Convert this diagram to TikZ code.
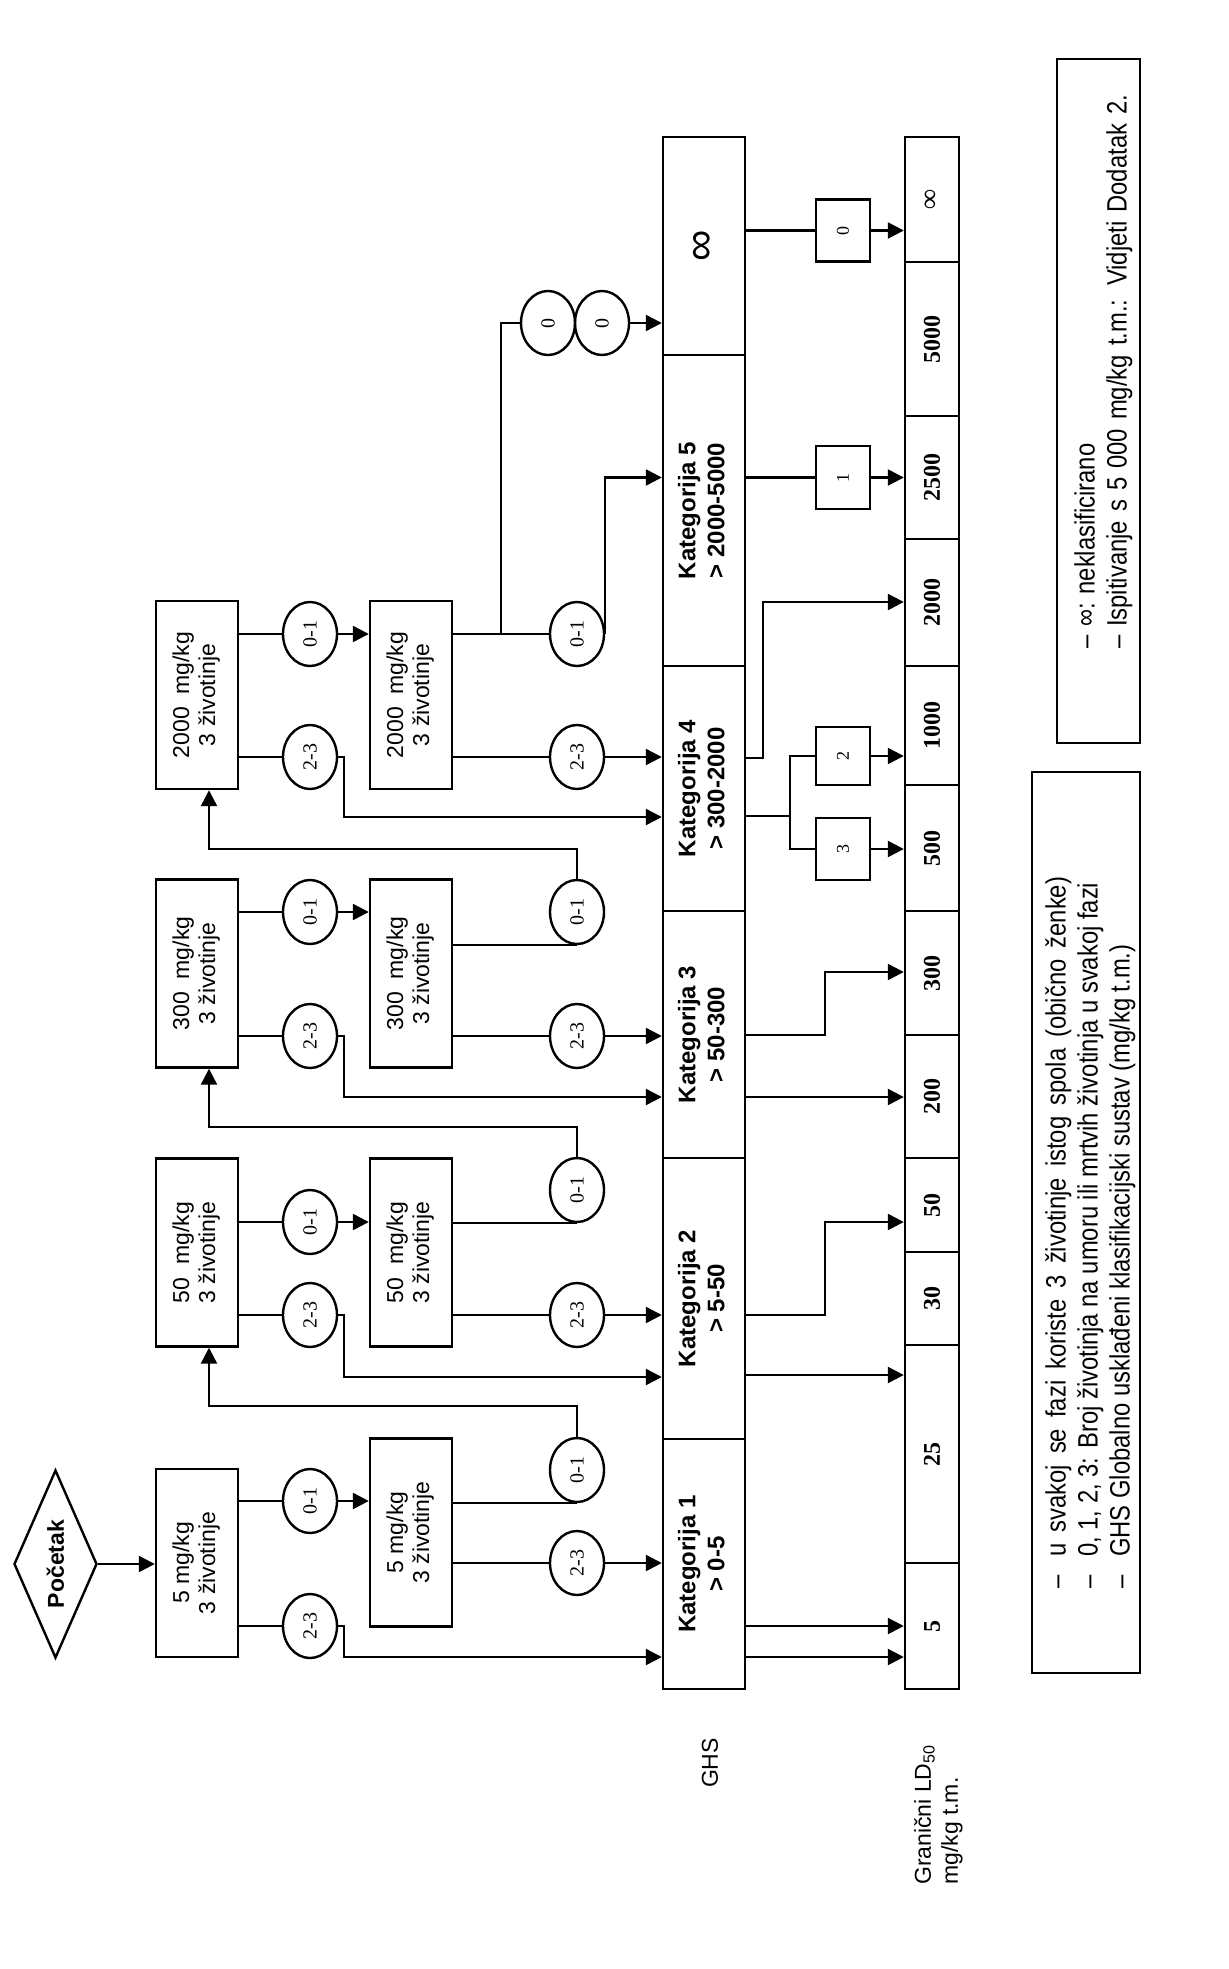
\documentclass[tikz,border=0pt]{standalone}
\usepackage{fontspec}
\usepackage{graphicx}
\setmainfont{Liberation Sans}
\newfontfamily\numfont{Liberation Serif}
\newfontfamily\narrowfont[FakeStretch=0.85]{Liberation Sans}
\usetikzlibrary{shapes.geometric,arrows.meta,calc}
\newcommand{\rtext}[1]{\rotatebox{90}{\begin{tabular}{@{}c@{}}#1\end{tabular}}}
\newcommand{\legitem}[2]{\makebox[#1][l]{–}#2}
\tikzset{
  arr/.style={-{Triangle[length=8pt,width=8pt]}},
  dosebox/.style={draw, rectangle, minimum width=41pt, minimum height=94pt, inner sep=0pt, font=\fontsize{11.5}{13}\selectfont},
  oval/.style={draw, ellipse, minimum width=27pt, minimum height=32pt, inner sep=0pt, font=\numfont\fontsize{10}{11}\selectfont},
  katbox/.style={draw, rectangle, minimum width=41pt, inner sep=0pt, font=\bfseries\fontsize{12}{14.5}\selectfont},
  ldcell/.style={draw, rectangle, minimum width=27pt, inner sep=0pt, font=\numfont\bfseries\fontsize{12}{13}\selectfont},
  smallbox/.style={draw, rectangle, minimum width=27pt, inner sep=0pt, font=\numfont\fontsize{9}{10}\selectfont},
  lbl/.style={font=\fontsize{11.5}{13.5}\selectfont, inner sep=0pt},
}
\begin{document}
\begin{tikzpicture}[x=0.5pt,y=-0.5pt,line width=1.2pt]
\useasboundingbox (0,0) rectangle (1229,1969);

% start
\node[draw, diamond, shape aspect=0.44, inner sep=0pt, minimum width=41.5pt, minimum height=94pt,
      font=\bfseries\fontsize{11.5}{13}\selectfont] (start) at (55.5,1564) {\rotatebox{90}{Početak}};

% dose boxes
\node[dosebox] (d1a) at (197,1563) {\rtext{5 mg/kg\\3 životinje}};
\node[dosebox] (d1b) at (411,1532.5) {\rtext{5 mg/kg\\3 životinje}};
\node[dosebox] (d2a) at (197,1252.5) {\rtext{50\ \ mg/kg\\3 životinje}};
\node[dosebox] (d2b) at (411,1252.5) {\rtext{50\ \ mg/kg\\3 životinje}};
\node[dosebox] (d3a) at (197,973.5) {\rtext{300\ \ mg/kg\\3 životinje}};
\node[dosebox] (d3b) at (411,973.5) {\rtext{300\ \ mg/kg\\3 životinje}};
\node[dosebox] (d4a) at (197,695) {\rtext{2000\ \ mg/kg\\3 životinje}};
\node[dosebox] (d4b) at (411,695) {\rtext{2000\ \ mg/kg\\3 životinje}};

% ovals
\node[oval] (c1a01) at (310,1501) {\rotatebox{90}{0-1}};
\node[oval] (c1a23) at (310,1626) {\rotatebox{90}{2-3}};
\node[oval] (c1b01) at (577,1470) {\rotatebox{90}{0-1}};
\node[oval] (c1b23) at (577,1563) {\rotatebox{90}{2-3}};
\node[oval] (c2a01) at (310,1222) {\rotatebox{90}{0-1}};
\node[oval] (c2a23) at (310,1315) {\rotatebox{90}{2-3}};
\node[oval] (c2b01) at (577,1190) {\rotatebox{90}{0-1}};
\node[oval] (c2b23) at (577,1315) {\rotatebox{90}{2-3}};
\node[oval] (c3a01) at (310,912) {\rotatebox{90}{0-1}};
\node[oval] (c3a23) at (310,1036) {\rotatebox{90}{2-3}};
\node[oval] (c3b01) at (577,912) {\rotatebox{90}{0-1}};
\node[oval] (c3b23) at (577,1036) {\rotatebox{90}{2-3}};
\node[oval] (c4a01) at (310,634) {\rotatebox{90}{0-1}};
\node[oval] (c4a23) at (310,757) {\rotatebox{90}{2-3}};
\node[oval] (c4b01) at (577,634) {\rotatebox{90}{0-1}};
\node[oval] (c4b23) at (577,757) {\rotatebox{90}{2-3}};
\node[oval] (z1) at (548,323) {\rotatebox{90}{0}};
\node[oval] (z2) at (602,323) {\rotatebox{90}{0}};

% GHS categories
\node[katbox, minimum height=109pt] (kinf) at (704,246) {\rotatebox{90}{\mdseries\fontsize{22}{22}\selectfont ∞}};
\node[katbox, minimum height=155.5pt] (k5) at (704,510.5) {\rtext{Kategorija 5\\> 2000-5000}};
\node[katbox, minimum height=122.5pt] (k4) at (704,788.5) {\rtext{Kategorija 4\\> 300-2000}};
\node[katbox, minimum height=123.5pt] (k3) at (704,1034.5) {\rtext{Kategorija 3\\> 50-300}};
\node[katbox, minimum height=140.5pt] (k2) at (704,1298.5) {\rtext{Kategorija 2\\> 5-50}};
\node[katbox, minimum height=125pt] (k1) at (704,1564) {\rtext{Kategorija 1\\> 0-5}};

% small boxes
\node[smallbox, minimum height=31pt] (s0) at (843,230.5) {\rotatebox{90}{0}};
\node[smallbox, minimum height=31.5pt] (s1) at (843,477.5) {\rotatebox{90}{1}};
\node[smallbox, minimum height=29pt] (s2) at (843,756) {\rotatebox{90}{2}};
\node[smallbox, minimum height=31pt] (s3) at (843,849) {\rotatebox{90}{3}};

% LD50 bar
\node[ldcell, minimum height=62.5pt] (linf) at (932,199.5) {\rotatebox{90}{\fontsize{14}{14}\selectfont ∞}};
\node[ldcell, minimum height=77pt] (l5000) at (932,339) {\rotatebox{90}{5000}};
\node[ldcell, minimum height=61.5pt] (l2500) at (932,477.5) {\rotatebox{90}{2500}};
\node[ldcell, minimum height=63.5pt] (l2000) at (932,602.5) {\rotatebox{90}{2000}};
\node[ldcell, minimum height=59.5pt] (l1000) at (932,725.5) {\rotatebox{90}{1000}};
\node[ldcell, minimum height=63pt] (l500) at (932,848) {\rotatebox{90}{500}};
\node[ldcell, minimum height=62pt] (l300) at (932,973) {\rotatebox{90}{300}};
\node[ldcell, minimum height=61.5pt] (l200) at (932,1096.5) {\rotatebox{90}{200}};
\node[ldcell, minimum height=47pt] (l50) at (932,1205) {\rotatebox{90}{50}};
\node[ldcell, minimum height=46.5pt] (l30) at (932,1298.5) {\rotatebox{90}{30}};
\node[ldcell, minimum height=109pt] (l25) at (932,1454) {\rotatebox{90}{25}};
\node[ldcell, minimum height=63pt] (l5) at (932,1626) {\rotatebox{90}{5}};

% side labels
\node[lbl, rotate=90] (ghs) at (710,1763) {GHS};
\node[lbl, rotate=90, anchor=north west, align=left] (gran) at (913,1886) {Granični LD\textsubscript{50}\\mg/kg t.m.};

% legends
\node[draw, rectangle, minimum width=54pt, minimum height=450.5pt, inner sep=0pt] (leg1) at (1086,1222.5) {};
\node[draw, rectangle, minimum width=41.5pt, minimum height=342pt, inner sep=0pt] (leg2) at (1098.5,401) {};
\node[rotate=90, anchor=north west, align=left, inner sep=0pt, font=\narrowfont\fontsize{14}{16}\selectfont] (leg1t) at (1044,1590)
  {\legitem{16pt}{\makebox[340pt][s]{u svakoj se fazi koriste 3 životinje istog spola (obično ženke)}}\\
   \legitem{16pt}{0, 1, 2, 3: Broj životinja na umoru ili mrtvih životinja u svakoj fazi}\\
   \legitem{16pt}{GHS Globalno usklađeni klasifikacijski sustav (mg/kg t.m.)}};
\node[rotate=90, anchor=north west, align=left, inner sep=0pt, font=\narrowfont\fontsize{14}{16}\selectfont] (leg2t) at (1073,650)
  {\legitem{11pt}{∞: neklasificirano}\\
   \legitem{11pt}{\makebox[266pt][s]{Ispitivanje s 5 000 mg/kg t.m.: Vidjeti Dodatak 2.}}};

% ---- connectors ----
\draw[arr] (start.east) -- (d1a.west |- start.east);

% 5 mg/kg
\draw (d1a.east |- c1a01) -- (c1a01);
\draw[arr] (c1a01) -- (d1b.west |- c1a01);
\draw (d1a.east |- c1a23) -- (c1a23);
\draw[arr] (c1a23.east) -- ++(6,0) |- (k1.west |- 0,1657);
\draw (d1b.east |- c1b01.south) -- (c1b01.south);
\draw[arr] (c1b01.north) -- ++(0,-31) -| ([xshift=6pt]d2a.south);
\draw (d1b.east |- c1b23) -- (c1b23);
\draw[arr] (c1b23) -- (k1.west |- c1b23);

% 50 mg/kg
\draw (d2a.east |- c2a01) -- (c2a01);
\draw[arr] (c2a01) -- (d2b.west |- c2a01);
\draw (d2a.east |- c2a23) -- (c2a23);
\draw[arr] (c2a23.east) -- ++(6,0) |- (k2.west |- 0,1377);
\draw (d2b.east |- c2b01.south) -- (c2b01.south);
\draw[arr] (c2b01.north) -- ++(0,-30) -| ([xshift=6pt]d3a.south);
\draw (d2b.east |- c2b23) -- (c2b23);
\draw[arr] (c2b23) -- (k2.west |- c2b23);

% 300 mg/kg
\draw (d3a.east |- c3a01) -- (c3a01);
\draw[arr] (c3a01) -- (d3b.west |- c3a01);
\draw (d3a.east |- c3a23) -- (c3a23);
\draw[arr] (c3a23.east) -- ++(6,0) |- (k3.west |- 0,1097);
\draw (d3b.east |- c3b01.south) -- (c3b01.south);
\draw[arr] (c3b01.north) -- ++(0,-30) -| ([xshift=6pt]d4a.south);
\draw (d3b.east |- c3b23) -- (c3b23);
\draw[arr] (c3b23) -- (k3.west |- c3b23);

% 2000 mg/kg
\draw (d4a.east |- c4a01) -- (c4a01);
\draw[arr] (c4a01) -- (d4b.west |- c4a01);
\draw (d4a.east |- c4a23) -- (c4a23);
\draw[arr] (c4a23.east) -- ++(6,0) |- (k4.west |- 0,817);
\coordinate (p4) at (d4b.east |- c4b01);
\draw (p4) -- (c4b01);
\draw ($(p4)!0.5!(c4b01.west)$) |- (z1.west);
\draw[arr] (z2.east) -- (kinf.west |- z2.east);
\draw[arr] (c4b01.east) |- (k5.west |- s1);
\draw (d4b.east |- c4b23) -- (c4b23);
\draw[arr] (c4b23) -- (k4.west |- c4b23);

% categories -> LD50
\draw[arr] (k1.east |- l5) -- (l5);
\draw[arr] (k1.east |- 0,1657) -- (l5.west |- 0,1657);
\draw[arr] (k2.east |- 0,1375) -- (l25.west |- 0,1375);
\draw[arr] (k2.east |- 0,1315) -- ++(79,0) |- (l50.west |- 0,1222);
\draw[arr] (k3.east |- 0,1097) -- (l200.west |- 0,1097);
\draw[arr] (k3.east |- 0,1035) -- ++(79,0) |- (l300.west |- 0,972);
\draw[arr] (k4.east |- 0,758) -- ++(17,0) |- (l2000.west |- 0,602);
\coordinate (j4) at (790,816);
\draw (k4.east |- j4) -- (j4);
\draw (s2.west) -| (j4) |- (s3.west);
\draw[arr] (s2) -- (l1000.west |- s2);
\draw[arr] (s3) -- (l500.west |- s3);
\draw (k5.east |- s1) -- (s1);
\draw[arr] (s1) -- (l2500.west |- s1);
\draw (kinf.east |- s0) -- (s0);
\draw[arr] (s0) -- (linf.west |- s0);
\end{tikzpicture}
\end{document}
